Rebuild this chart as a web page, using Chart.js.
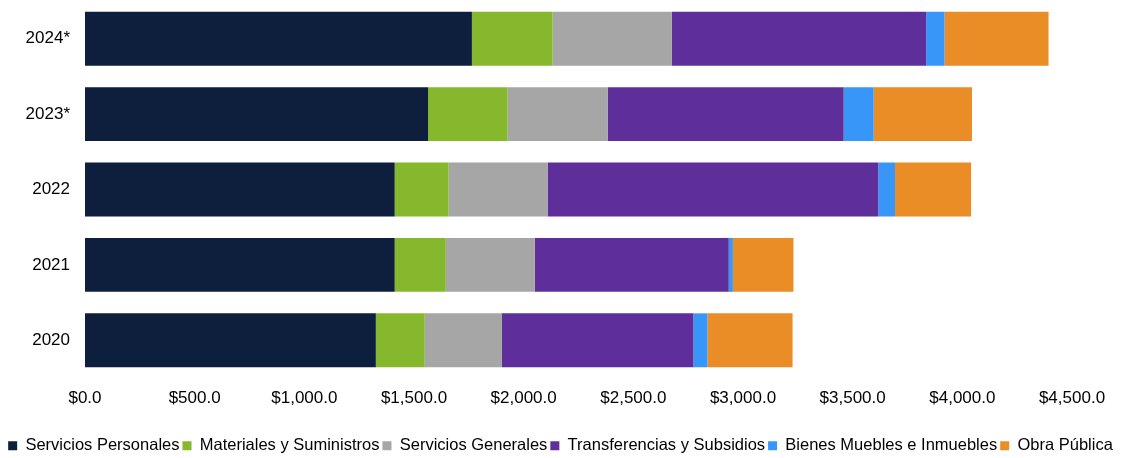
<!DOCTYPE html>
<html>
<head>
<meta charset="utf-8">
<script src="https://cdn.jsdelivr.net/npm/chart.js@4/dist/chart.umd.min.js"></script>
<style>
html,body{margin:0;padding:0;background:#fff;}
#wrap{width:1121px;height:458px;position:relative;}
</style>
</head>
<body>
<div id="wrap"><canvas id="c"></canvas></div>
<script>
const categories = ["2024*", "2023*", "2022", "2021", "2020"];
const serviciosPersonales = [1764, 1564, 1412, 1412, 1326];
const materialesSuministros = [368, 363, 246, 233, 223];
const serviciosGenerales = [544, 456, 451, 405, 352];
const transferenciasSubsidios = [1159, 1076, 1508, 885, 873];
const bienesMuebles = [84, 137, 76, 19, 64];
const obraPublica = [474, 448, 347, 276, 388];
const xTicks = [0, 500, 1000, 1500, 2000, 2500, 3000, 3500, 4000, 4500];

const seriesNames = ["Servicios Personales", "Materiales y Suministros", "Servicios Generales", "Transferencias y Subsidios", "Bienes Muebles e Inmuebles", "Obra Pública"];
const seriesData = [serviciosPersonales, materialesSuministros, serviciosGenerales, transferenciasSubsidios, bienesMuebles, obraPublica];
const seriesColors = ["#0E1F3D", "#86B82E", "#A6A6A6", "#5E2F9B", "#3996F9", "#EA8D26"];

const FONT = "'Liberation Sans', Arial, sans-serif";

new Chart(document.getElementById('c'), {
  type: 'bar',
  data: {
    labels: categories,
    datasets: seriesNames.map((n, i) => ({
      label: n,
      data: seriesData[i],
      backgroundColor: seriesColors[i],
      borderWidth: 0,
      categoryPercentage: 0.715,
      barPercentage: 1.0
    }))
  },
  options: {
    indexAxis: 'y',
    responsive: true,
    maintainAspectRatio: false,
    animation: false,
    layout: { padding: { left: 0, right: 0, top: 1, bottom: -6 } },
    scales: {
      x: {
        stacked: true,
        min: 0, max: 4500,
        afterBuildTicks: (s) => { s.ticks = xTicks.map(v => ({ value: v })); },
        afterFit: (s) => { s.paddingRight = 49; s.height = 56.5; },
        grid: { display: false, drawTicks: false },
        border: { display: false },
        ticks: {
          padding: 10,
          color: '#000',
          font: { family: FONT, size: 17 },
          maxRotation: 0,
          callback: (v) => '$' + Number(v).toLocaleString('en-US', { minimumFractionDigits: 1, maximumFractionDigits: 1 })
        }
      },
      y: {
        stacked: true,
        grid: { display: false, drawTicks: false },
        border: { display: false },
        afterFit: (s) => { s.width = 85; s.paddingTop = 0; s.paddingBottom = 0; },
        ticks: {
          padding: 15,
          color: '#000',
          font: { family: FONT, size: 17 }
        }
      }
    },
    plugins: {
      legend: {
        position: 'bottom',
        labels: {
          boxWidth: 9,
          boxHeight: 9,
          padding: 3,
          color: '#000',
          font: { family: FONT, size: 16.5 }
        }
      },
      tooltip: { enabled: false }
    }
  }
});
</script>
</body>
</html>
